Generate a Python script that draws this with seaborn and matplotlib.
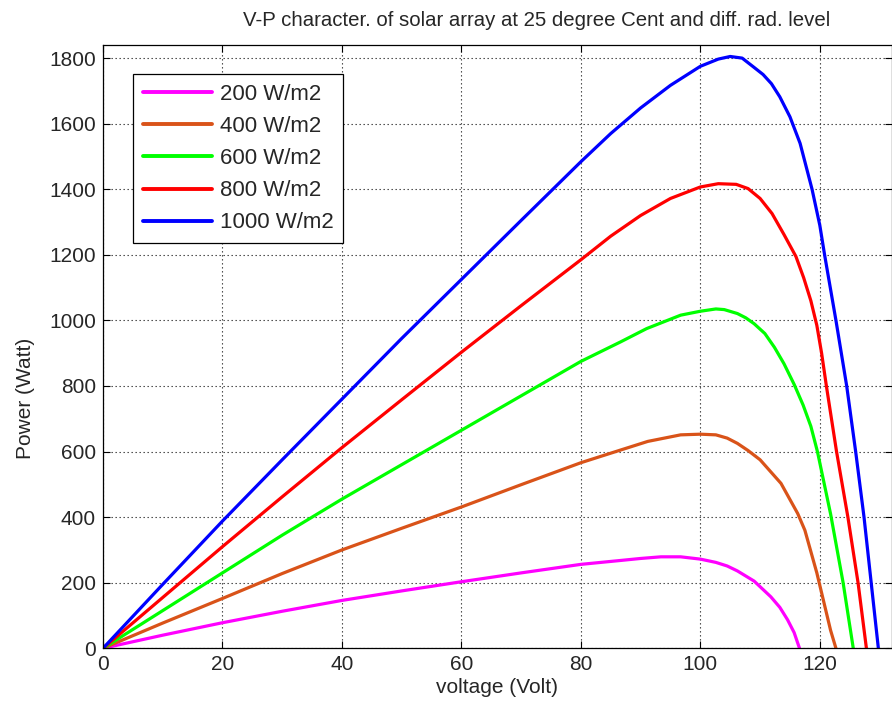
import numpy as np
import pandas as pd
import matplotlib
matplotlib.use("Agg")
import matplotlib.pyplot as plt
import seaborn as sns

# ---- data ----
labels = ["200 W/m2", "400 W/m2", "600 W/m2", "800 W/m2", "1000 W/m2"]
colors = ["#FF00FF", "#D95319", "#00FF00", "#FF0000", "#0000FF"]

v_200 = [0, 10, 20, 30, 40, 50, 60, 70, 80, 86.7, 90, 93.4, 96.7, 100, 102.6, 104.5, 106.2, 109, 111.8, 113.3, 114.6, 115.7, 116.6]
p_200 = [0, 40, 78, 113, 146, 175, 203, 230, 256, 268, 274, 279, 279, 272, 262, 251, 236, 205, 157, 125, 87, 48, 0]

v_400 = [0, 10, 20, 30, 40, 50, 60, 70, 80, 86.7, 91.2, 96.7, 100, 102.6, 104.5, 106.2, 108, 110, 113.5, 116.3, 117.5, 119.5, 121.8, 122.7]
p_400 = [0, 77, 152, 228, 300, 366, 431, 499, 566, 605, 631, 651, 653, 651, 641, 625, 603, 575, 503, 411, 360, 230, 55, 0]

v_600 = [0, 10, 20, 30, 40, 50, 60, 70, 80, 86.7, 91, 96.7, 100, 102.6, 104, 106.2, 107.6, 109, 110.8, 112.4, 114, 115.7, 117.2, 118.5, 119.6, 121.8, 123.9, 125.6]
p_600 = [0, 115, 230, 345, 455, 560, 665, 770, 875, 935, 975, 1016, 1028, 1035, 1033, 1021, 1008, 990, 960, 918, 868, 805, 742, 677, 600, 410, 200, 0]

v_800 = [0, 10, 20, 30, 40, 50, 60, 70, 80, 85, 90, 95, 100, 103, 106, 108, 110, 112, 114, 116, 117.3, 118.5, 119.5, 120.3, 121.1, 122.8, 124.7, 126.4, 127.8]
p_800 = [0, 155, 310, 462, 612, 758, 903, 1045, 1185, 1257, 1320, 1372, 1407, 1417, 1415, 1402, 1372, 1326, 1262, 1195, 1130, 1060, 985, 900, 800, 600, 400, 200, 0]

v_1000 = [0, 10, 20, 30, 40, 50, 60, 70, 80, 85, 90, 95, 100, 103, 105, 107, 108.9, 110.5, 111.9, 113.3, 115, 116.7, 118.7, 120, 120.8, 122.7, 124.5, 126, 127.4, 128.6, 129.8]
p_1000 = [0, 195, 388, 575, 760, 945, 1125, 1305, 1484, 1570, 1648, 1717, 1775, 1797, 1805, 1800, 1773, 1750, 1722, 1682, 1621, 1540, 1400, 1290, 1200, 1000, 800, 600, 400, 200, 0]

x_ticks = [0, 20, 40, 60, 80, 100, 120]
y_ticks = [0, 200, 400, 600, 800, 1000, 1200, 1400, 1600, 1800]

series = [(v_200, p_200), (v_400, p_400), (v_600, p_600), (v_800, p_800), (v_1000, p_1000)]
frames = []
for lab, (v, p) in zip(labels, series):
    frames.append(pd.DataFrame({"voltage": v, "power": p, "level": lab}))
df = pd.concat(frames, ignore_index=True)

sns.set_style("ticks")
plt.rcParams["font.family"] = ["Liberation Sans", "DejaVu Sans"]
plt.rcParams["xtick.direction"] = "in"
plt.rcParams["ytick.direction"] = "in"

fig = plt.figure(figsize=(8.92, 7.08), dpi=100)
ax = fig.add_axes([103 / 892, 59.7 / 708, 788.5 / 892, 603.3 / 708])

sns.lineplot(data=df, x="voltage", y="power", hue="level", hue_order=labels,
             palette=dict(zip(labels, colors)), sort=False, estimator=None,
             linewidth=2.3, ax=ax)

ax.set_xlim(0, 132)
ax.set_ylim(0, 1840)
ax.set_xticks(x_ticks)
ax.set_yticks(y_ticks)
ax.tick_params(axis="both", labelsize=15, length=5, width=0.8, color="black",
               top=True, right=True, pad=5)
for s in ax.spines.values():
    s.set_visible(True)
    s.set_color("black")
    s.set_linewidth(0.9)
ax.grid(True, linestyle=(0, (1.2, 2.4)), color="0.2", linewidth=0.8)
ax.set_axisbelow(True)

ax.set_title("V-P character. of solar array at 25 degree Cent and diff. rad. level",
             fontsize=14.7, pad=14, x=0.5504)
ax.set_xlabel("voltage (Volt)", fontsize=15, labelpad=3)
ax.set_ylabel("Power (Watt)", fontsize=15, labelpad=10)
ax.yaxis.label.set_y(0.415)

leg = ax.legend(loc="upper left", bbox_to_anchor=(0.038, 0.952), fontsize=16,
                frameon=True, fancybox=False, framealpha=1, edgecolor="black",
                handlelength=3.1, handletextpad=0.35, labelspacing=0.5,
                borderpad=0.45, borderaxespad=0, title=None)
leg.get_frame().set_linewidth(0.9)
for line in leg.get_lines():
    line.set_linewidth(2.8)

fig.savefig("out.png", dpi=100)
